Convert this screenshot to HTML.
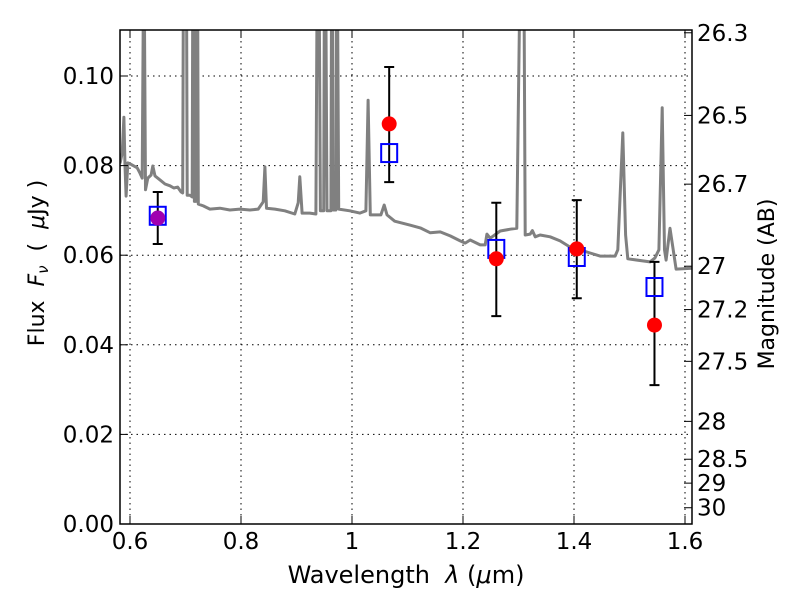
<!DOCTYPE html>
<html><head><meta charset="utf-8"><style>
body{margin:0;background:#fff}
text{font-family:"DejaVu Sans","Liberation Sans",sans-serif}
</style></head><body>
<svg id="chart" width="800" height="600" xmlns="http://www.w3.org/2000/svg">
<defs><clipPath id="clip"><rect x="120" y="30" width="572" height="494"/></clipPath></defs>
<rect x="0" y="0" width="800" height="600" fill="#fff"/>
<g id="grid"></g>
<g id="spec" clip-path="url(#clip)"></g>
<g id="marks"></g>
<rect x="120" y="30" width="572" height="494" fill="none" stroke="#000" stroke-width="1.5"/>
<g id="axes"></g>
<text x="406" y="583" font-size="24" text-anchor="middle">Wavelength&#160;&#160;<tspan font-style="italic">λ</tspan>&#160;(<tspan font-style="italic">μ</tspan>m)</text>
<text transform="translate(44,263) rotate(-90)" font-size="22" text-anchor="middle">Flux&#160;&#160;<tspan font-style="italic">F</tspan><tspan font-style="italic" font-size="15" dy="4">ν</tspan><tspan dy="-4">&#160;&#160;(&#160;&#160;</tspan><tspan font-style="italic">μ</tspan>Jy&#160;)</text>
<text transform="translate(774,284) rotate(-90)" font-size="22" text-anchor="middle">Magnitude (AB)</text>
</svg>
<script>
const specLam=[0.582,0.586,0.589,0.591,0.593,0.596,0.600,0.613,0.618,0.622,0.624,0.626,0.628,0.632,0.638,0.641,0.645,0.654,0.663,0.672,0.679,0.686,0.692,0.695,0.696,0.702,0.703,0.708,0.712,0.713,0.715,0.716,0.719,0.720,0.722,0.723,0.732,0.744,0.762,0.780,0.798,0.816,0.831,0.840,0.843,0.846,0.861,0.879,0.897,0.903,0.906,0.910,0.924,0.935,0.937,0.941,0.943,0.949,0.950,0.953,0.955,0.962,0.963,0.965,0.966,0.971,0.972,0.974,0.976,0.996,1.014,1.025,1.029,1.033,1.052,1.058,1.063,1.077,1.105,1.123,1.141,1.159,1.177,1.195,1.204,1.213,1.231,1.240,1.243,1.249,1.267,1.285,1.297,1.302,1.310,1.312,1.321,1.325,1.330,1.339,1.357,1.375,1.393,1.411,1.429,1.447,1.474,1.479,1.488,1.493,1.497,1.537,1.546,1.553,1.559,1.563,1.566,1.573,1.584,1.613];
const specFlux=[0.0805,0.0828,0.0908,0.080,0.0732,0.0806,0.0804,0.0795,0.0783,0.0772,0.115,0.115,0.0746,0.0772,0.0779,0.0799,0.0777,0.0768,0.0759,0.0755,0.075,0.0752,0.0741,0.0739,0.115,0.115,0.0734,0.0734,0.073,0.115,0.115,0.072,0.072,0.115,0.115,0.0714,0.071,0.0703,0.0705,0.0701,0.0703,0.0701,0.0703,0.0719,0.0797,0.0705,0.0703,0.0699,0.0692,0.0717,0.0775,0.0694,0.0694,0.0692,0.115,0.115,0.0699,0.0699,0.115,0.115,0.0699,0.0699,0.115,0.115,0.0701,0.0701,0.115,0.115,0.0703,0.0699,0.0694,0.0699,0.0946,0.069,0.069,0.0712,0.069,0.0676,0.0667,0.0661,0.065,0.0652,0.0643,0.0632,0.0627,0.0634,0.0623,0.0623,0.0647,0.0638,0.0654,0.0658,0.066,0.115,0.115,0.0645,0.0647,0.0655,0.0641,0.0645,0.0641,0.0632,0.0618,0.0612,0.0605,0.0598,0.0598,0.0612,0.0873,0.0645,0.0592,0.0585,0.0594,0.0612,0.0929,0.0612,0.0589,0.066,0.0569,0.0571];
const obsLam=[0.65,1.067,1.26,1.405,1.545];
const obsFlux=[0.0683,0.0893,0.0592,0.0614,0.0444];
const errLow=[0.0625,0.0763,0.0464,0.0504,0.031];
const errHigh=[0.0741,0.102,0.0717,0.0723,0.0585];
const modelFlux=[0.0688,0.0828,0.0614,0.0596,0.0529];
const xTicks=[0.6,0.8,1.0,1.2,1.4,1.6];
const xTickLabels=["0.6","0.8","1","1.2","1.4","1.6"];
const yTicks=[0,0.02,0.04,0.06,0.08,0.10];
const yTickLabels=["0.00","0.02","0.04","0.06","0.08","0.10"];
const magTicks=[26.3,26.5,26.7,27,27.2,27.5,28,28.5,29,30];
const magLabels=["26.3","26.5","26.7","27","27.2","27.5","28","28.5","29","30"];

const NS="http://www.w3.org/2000/svg";
const X=v=>130+(v-0.6)*555;
const Y=v=>524-v*4480;
const magY=m=>Y(Math.pow(10,(23.9-m)/2.5));
function mk(tag,attrs,parent,txt){const e=document.createElementNS(NS,tag);for(const k in attrs)e.setAttribute(k,attrs[k]);if(txt!==undefined)e.textContent=txt;document.getElementById(parent).appendChild(e);return e;}

xTicks.forEach((t,i)=>{
  const g=mk('line',{x1:X(t),x2:X(t),y1:30,y2:524,stroke:'#000','stroke-dasharray':'1.5,4','stroke-width':1},'grid');
  
  
  const a=mk('line',{x1:X(t),x2:X(t),y1:524,y2:516,stroke:'#000'},'axes');
  
  
  const b=mk('line',{x1:X(t),x2:X(t),y1:30,y2:38,stroke:'#000'},'axes');
  
  
  const l=mk('text',{x:X(t),y:549,'font-size':23,'text-anchor':'middle'},'axes',xTickLabels[i]);
  
  
});
yTicks.forEach((t,i)=>{
  const g=mk('line',{x1:120,x2:692,y1:Y(t),y2:Y(t),stroke:'#000','stroke-dasharray':'1.5,4','stroke-width':1},'grid');
  
  
  const a=mk('line',{x1:120,x2:128,y1:Y(t),y2:Y(t),stroke:'#000'},'axes');
  
  
  const l=mk('text',{x:114,y:Y(t)+8,'font-size':23,'text-anchor':'end'},'axes',yTickLabels[i]);
  
  
});
magTicks.forEach((m,i)=>{
  const a=mk('line',{x1:684,x2:692,y1:magY(m),y2:magY(m),stroke:'#000'},'axes');
  
  
  const l=mk('text',{x:697,y:magY(m)+8,'font-size':23},'axes',magLabels[i]);
  
  
});
const pts=specLam.map((l,i)=>X(l).toFixed(1)+','+Y(specFlux[i]).toFixed(1)).join(' ');
const sp=mk('polyline',{points:pts,fill:'none',stroke:'#808080','stroke-width':3,'stroke-linejoin':'round'},'spec');


obsLam.forEach((l,i)=>{
  const x=X(l);
  const e=mk('path',{d:`M${x},${Y(errLow[i])}V${Y(errHigh[i])}M${x-5},${Y(errLow[i])}h10M${x-5},${Y(errHigh[i])}h10`,stroke:'#000','stroke-width':2,fill:'none'},'marks');
  
  
  const s=mk('rect',{x:x-8,y:Y(modelFlux[i])-9,width:16,height:18,fill:'none',stroke:'#0000ff','stroke-width':2},'marks');
  
  
  const c=mk('circle',{cx:x,cy:Y(obsFlux[i]),r:7.5,fill:i===0?'#a000b0':'#ff0000'},'marks');
  
  
});
</script>
</body></html>
